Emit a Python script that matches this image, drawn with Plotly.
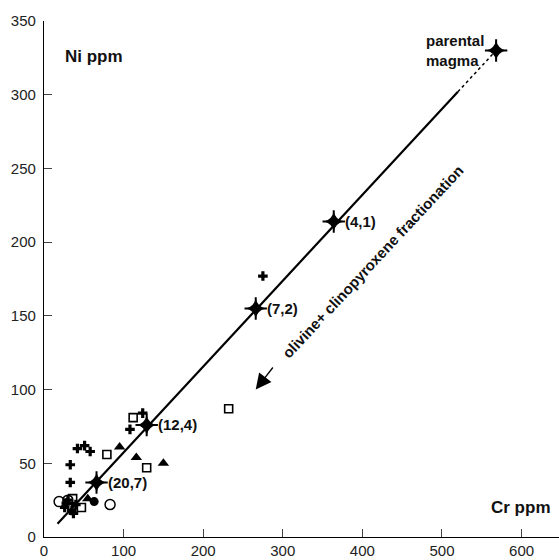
import plotly.graph_objects as go

# Data (Cr ppm, Ni ppm)
plus_cr = [124, 108, 42, 51, 58, 33, 33, 26, 37, 275, 30, 35, 40, 28]
plus_ni = [84, 73, 60, 62, 58, 49, 37, 20, 16, 177, 25, 18, 22, 23]
sq_cr = [112, 79, 129, 232, 36, 47]
sq_ni = [81, 56, 47, 87, 26, 20]
tri_cr = [95, 116, 150, 55]
tri_ni = [61, 54, 50, 26]
circ_cr = [19, 30, 83]
circ_ni = [24, 25, 22]
fcirc_cr = [63]
fcirc_ni = [24]

star_cr = [364, 266, 129, 66]
star_ni = [214, 155, 76, 37]
star_labels = ["(4,1)", "(7,2)", "(12,4)", "(20,7)"]
parent_cr = [568]
parent_ni = [330]

line_cr = [17, 520]
line_ni = [9, 302]
dot_cr = [520, 568]
dot_ni = [302, 330]

x_ticks = [0, 100, 200, 300, 400, 500, 600]
y_ticks = [0, 50, 100, 150, 200, 250, 300, 350]

fig = go.Figure()

fig.add_trace(go.Scatter(x=line_cr, y=line_ni, mode="lines",
                         line=dict(color="black", width=2.2), hoverinfo="skip"))
fig.add_trace(go.Scatter(x=dot_cr, y=dot_ni, mode="lines",
                         line=dict(color="black", width=1.5, dash="dot"), hoverinfo="skip"))

fig.add_trace(go.Scatter(x=plus_cr, y=plus_ni, mode="markers",
                         marker=dict(symbol="cross", size=8, color="black")))
fig.add_trace(go.Scatter(x=sq_cr, y=sq_ni, mode="markers",
                         marker=dict(symbol="square-open", size=8, color="black",
                                     line=dict(width=1.6, color="black"))))
fig.add_trace(go.Scatter(x=tri_cr, y=tri_ni, mode="markers",
                         marker=dict(symbol="triangle-up", size=10, color="black")))
fig.add_trace(go.Scatter(x=circ_cr, y=circ_ni, mode="markers",
                         marker=dict(symbol="circle-open", size=10, color="black",
                                     line=dict(width=1.5, color="black"))))
fig.add_trace(go.Scatter(x=fcirc_cr, y=fcirc_ni, mode="markers",
                         marker=dict(symbol="circle", size=9, color="black")))

all_star_cr = star_cr + parent_cr
all_star_ni = star_ni + parent_ni
fig.add_trace(go.Scatter(x=all_star_cr, y=all_star_ni, mode="markers",
                         marker=dict(symbol="cross-thin", size=16, color="black",
                                     line=dict(width=2.0, color="black"))))
fig.add_trace(go.Scatter(x=all_star_cr, y=all_star_ni, mode="markers",
                         marker=dict(symbol="star-diamond", size=14, color="black")))

bold = dict(family="Liberation Sans, Arial, sans-serif", size=15, color="#111")

for cx, cy, t in zip(star_cr, star_ni, star_labels):
    fig.add_annotation(x=cx, y=cy, text="<b>%s</b>" % t, showarrow=False,
                       xanchor="left", yanchor="middle", xshift=9, font=bold)

fig.add_annotation(x=parent_cr[0], y=parent_ni[0], text="<b>parental<br>magma</b>",
                   showarrow=False, xanchor="right", yanchor="middle", xshift=-10,
                   align="left", font=bold)

big = dict(family="Liberation Sans, Arial, sans-serif", size=17, color="#111")
fig.add_annotation(x=24, y=326, text="<b>Ni ppm</b>", showarrow=False,
                   xanchor="left", yanchor="middle", font=big)
fig.add_annotation(x=640, y=20, text="<b>Cr ppm</b>", showarrow=False,
                   xanchor="right", yanchor="middle", font=big)

fig.add_annotation(x=413, y=187, text="<b>olivine+ clinopyroxene fractionation</b>",
                   showarrow=False, textangle=-47, font=bold)

fig.add_annotation(x=266, y=100, ax=289, ay=116, axref="x", ayref="y",
                   xref="x", yref="y", text="", showarrow=True,
                   arrowhead=2, arrowsize=2.4, arrowwidth=1.3, arrowcolor="black")

axis_font = dict(family="Liberation Sans, Arial, sans-serif", size=15, color="#222")
fig.update_xaxes(range=[0, 647], tickvals=x_ticks, ticks="inside", ticklen=8,
                 tickcolor="#444", tickwidth=1, showline=True, linecolor="black",
                 linewidth=1.3, showgrid=False, zeroline=False, tickfont=axis_font)
fig.update_yaxes(range=[0, 350], tickvals=y_ticks, ticks="inside", ticklen=8,
                 tickcolor="#444", tickwidth=1, showline=True, linecolor="black",
                 linewidth=1.3, showgrid=False, zeroline=False, tickfont=axis_font,
                 ticklabelstandoff=4)

fig.update_layout(width=559, height=560, showlegend=False,
                  margin=dict(l=44, r=0, t=21, b=23),
                  plot_bgcolor="white", paper_bgcolor="white")

fig.write_html("out.html")
